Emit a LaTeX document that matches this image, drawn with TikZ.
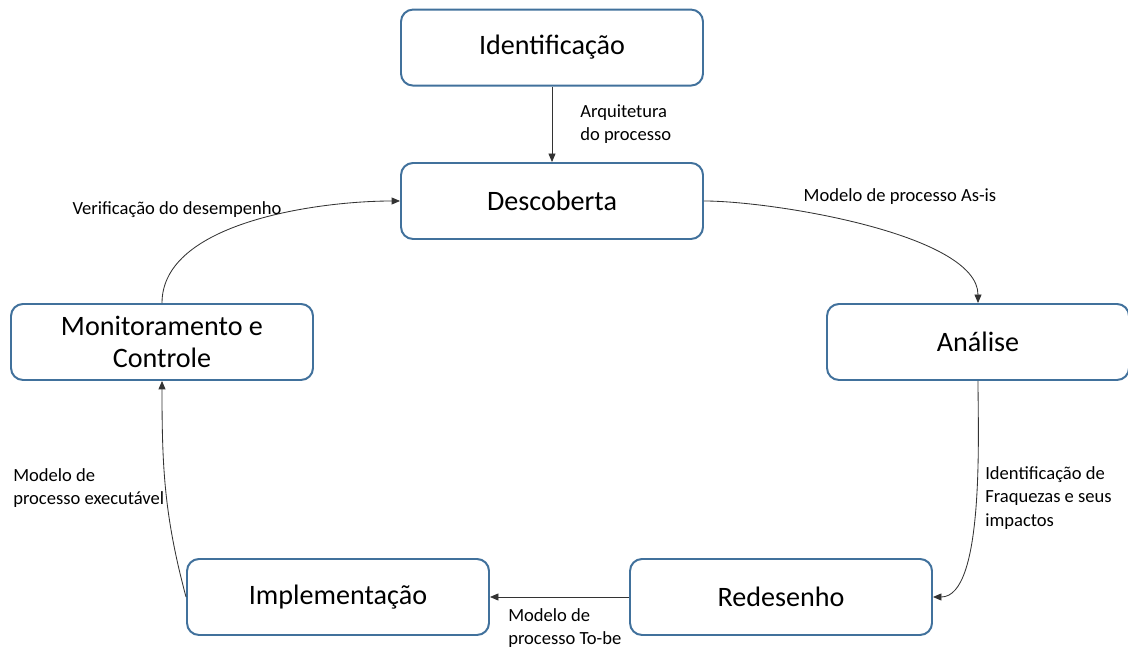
\documentclass[tikz,border=0pt]{standalone}
\usepackage{fontspec}
\setmainfont{Carlito}
\usetikzlibrary{arrows.meta}
\definecolor{boxblue}{RGB}{65,113,156}
\tikzset{
  phase/.style={draw=boxblue, line width=1.4pt, rounded corners=0.3cm, fill=white,
    minimum width=7.55cm, minimum height=1.9cm, align=center,
    font=\fontsize{20}{22.5}\selectfont},
  flow/.style={draw=black!80, line width=0.6pt, -{Triangle[length=6pt,width=5pt]}},
  lbl/.style={align=left, inner sep=0pt, font=\fontsize{13.2}{16.7}\selectfont}
}
\begin{document}
\begin{tikzpicture}
 \useasboundingbox (0,0) rectangle (28.2,16.2);

 \node [phase] (ident) at (13.8,15.01) {Identificação};
 \node [phase] (desc) at (13.8,11.175) {Descoberta};
 \node [phase] (anal) at (24.45,7.65) {Análise};
 \node [phase] (monit) at (4.05,7.65) {Monitoramento e\\Controle};
 \node [phase] (impl) at (8.45,1.275) {Implementação};
 \node [phase] (redes) at (19.525,1.275) {Redesenho};

 \draw [flow] (ident) -- (desc);
 \draw [flow] (desc.east) to [out=0,in=90,looseness=0.6] (anal.north);
 \draw [flow] (anal.south) to [out=-90,in=0,looseness=0.6] (redes.east);
 \draw [flow] (redes) -- (impl);
 \draw [flow] (impl.west) to [out=105,in=-90] (monit.south);
 \draw [flow] (monit.north) to [out=90,in=180,looseness=0.8] (desc.west);

 \node [lbl, anchor=west] (larq) at (14.5,13.1) {Arquitetura\\do processo};
 \node [lbl] (lasis) at (22.5,11.275) {Modelo de processo As-is};
 \node [lbl, anchor=west] (lfraq) at (24.625,3.75) {Identificação de\\Fraquezas e seus\\impactos};
 \node [lbl, anchor=west] (ltobe) at (12.7,0.5) {Modelo de\\processo To-be};
 \node [lbl, anchor=west] (lexec) at (0.325,4.0) {Modelo de\\processo executável};
 \node [lbl] (lverif) at (4.425,10.95) {Verificação do desempenho};
\end{tikzpicture}
\end{document}
